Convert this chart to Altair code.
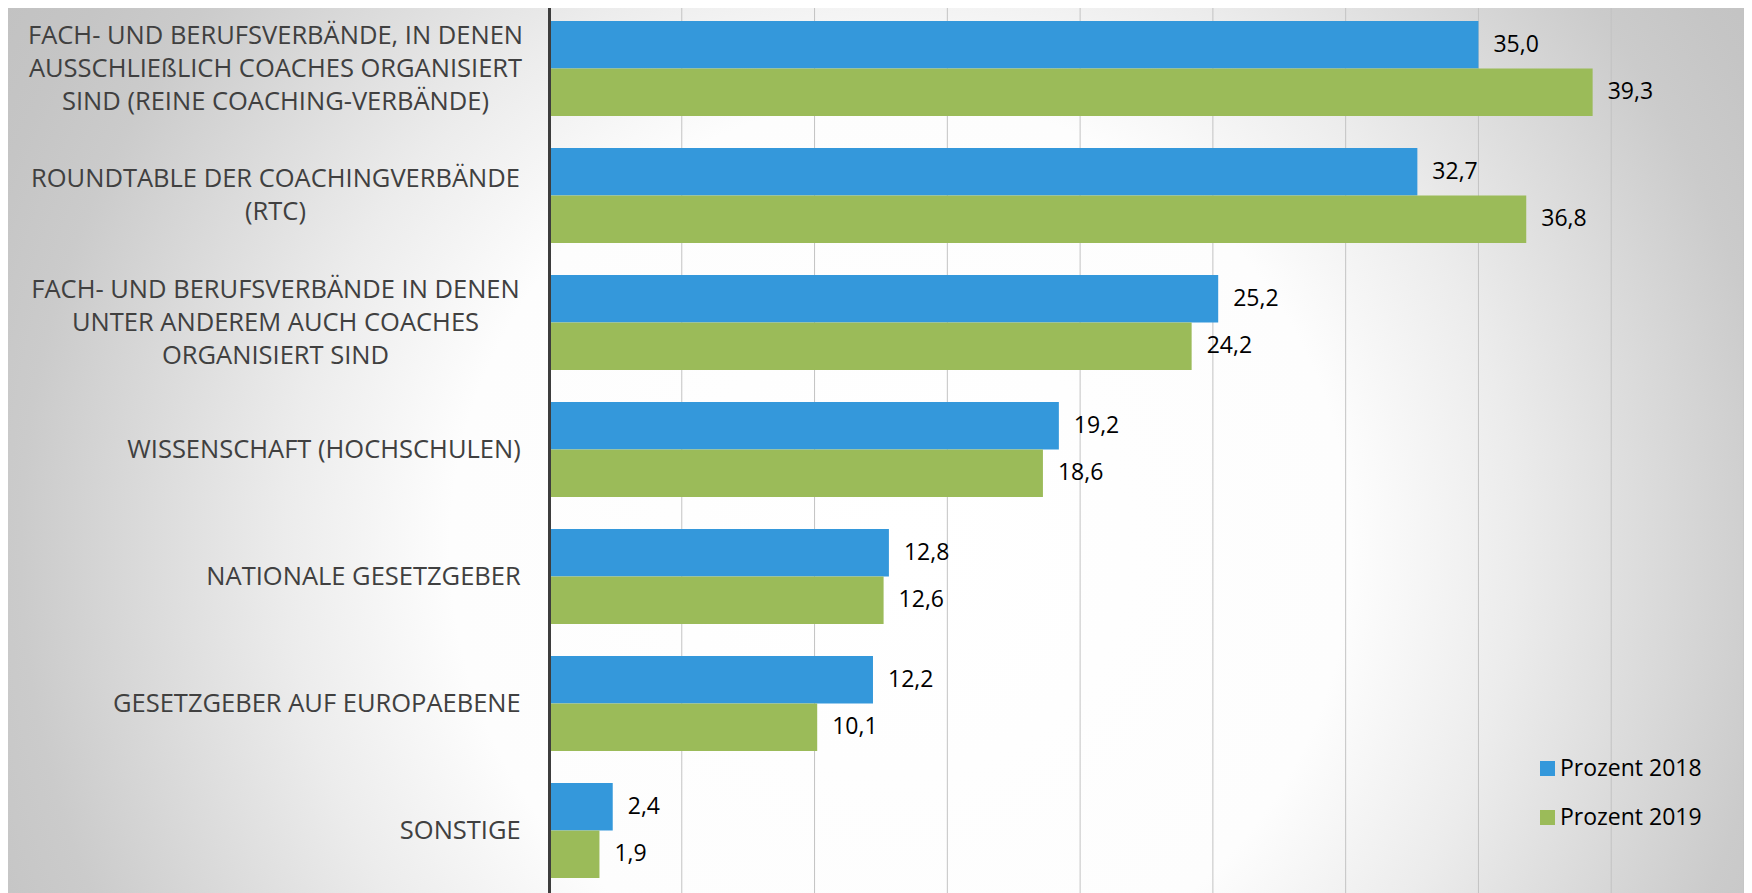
import altair as alt
import pandas as pd

# ---- data ----
categories = [
    ["FACH- UND BERUFSVERBÄNDE, IN DENEN", "AUSSCHLIEßLICH COACHES ORGANISIERT", "SIND (REINE COACHING-VERBÄNDE)"],
    ["ROUNDTABLE DER COACHINGVERBÄNDE", "(RTC)"],
    ["FACH- UND BERUFSVERBÄNDE IN DENEN", "UNTER ANDEREM AUCH COACHES", "ORGANISIERT SIND"],
    ["WISSENSCHAFT (HOCHSCHULEN)"],
    ["NATIONALE GESETZGEBER"],
    ["GESETZGEBER AUF EUROPAEBENE"],
    ["SONSTIGE"],
]
series_names = ["Prozent 2018", "Prozent 2019"]
values_2018 = [35.0, 32.7, 25.2, 19.2, 12.8, 12.2, 2.4]
values_2019 = [39.3, 36.8, 24.2, 18.6, 12.6, 10.1, 1.9]
grid_values = [5, 10, 15, 20, 25, 30, 35, 40, 45]
x_domain = [0, 45]

# ---- styles ----
series_colors = ["#3498db", "#9bbb59"]
FONT = "Open Sans"
LINE_H = 33

cat_keys = ["\n".join(c) for c in categories]
rows = []
for key, v18, v19 in zip(cat_keys, values_2018, values_2019):
    rows.append({"cat": key, "series": series_names[0], "value": v18})
    rows.append({"cat": key, "series": series_names[1], "value": v19})
df = pd.DataFrame(rows)
lab_df = pd.DataFrame({"cat": cat_keys, "n": [len(c) for c in categories]})
grid_df = pd.DataFrame({"g": grid_values})

x_scale = alt.Scale(domain=x_domain, nice=False, zero=True)
Y = alt.Y(
    "cat:N",
    sort=cat_keys,
    title=None,
    scale=alt.Scale(range=[-3, 886], paddingInner=0.252, paddingOuter=0.126),
    axis=alt.Axis(labels=False, ticks=False, grid=False, domainColor="#3d3d3d",
                  domainWidth=3, zindex=1, title=None),
)
YOFF = alt.YOffset("series:N", sort=series_names, scale=alt.Scale(paddingInner=0, paddingOuter=0))

gradient = {
    "gradient": "radial",
    "x1": 0.514, "y1": 0.556, "r1": 0,
    "x2": 0.514, "y2": 0.556, "r2": 0.6025,
    "stops": [
        {"offset": 0, "color": "#ffffff"},
        {"offset": 0.43, "color": "#fdfdfd"},
        {"offset": 0.588, "color": "#ececec"},
        {"offset": 0.841, "color": "#cbcbcb"},
        {"offset": 0.927, "color": "#c5c5c5"},
        {"offset": 1, "color": "#c2c2c2"},
    ],
}

bg = alt.Chart(alt.Data(values=[{"a": 1}])).mark_rect(fill=gradient, strokeWidth=0).encode(
    x=alt.value(-541), x2=alt.value(1195), y=alt.value(0), y2=alt.value(885)
)

grid = alt.Chart(grid_df).mark_rule(color="#c3c3c3", strokeWidth=1).encode(
    x=alt.X("g:Q", scale=x_scale, axis=None),
    y=alt.value(0),
    y2=alt.value(885),
)

bars = alt.Chart(df).mark_bar().encode(
    x=alt.X("value:Q", scale=x_scale, axis=None),
    y=Y,
    yOffset=YOFF,
    color=alt.Color(
        "series:N",
        sort=series_names,
        scale=alt.Scale(domain=series_names, range=series_colors),
        legend=alt.Legend(
            title=None, orient="none", legendX=987, legendY=749,
            symbolType="square", symbolSize=225, symbolStrokeWidth=0,
            labelFont=FONT, labelFontSize=23, labelColor="#000000",
            rowPadding=25, labelOffset=1, padding=0,
        ),
    ),
)

values_txt = alt.Chart(df).transform_calculate(
    label="replace(format(datum.value, '.1f'), '.', ',')"
).mark_text(align="left", baseline="middle", dx=15, font=FONT, fontSize=23, color="#000000").encode(
    x=alt.X("value:Q", scale=x_scale, axis=None),
    y=Y,
    yOffset=YOFF,
    text="label:N",
)

label_layers = []
for n in sorted(set(len(c) for c in categories)):
    if n == 1:
        lyr = alt.Chart(lab_df).transform_filter("datum.n == 1").mark_text(
            align="right", baseline="middle", font=FONT, fontSize=25.5, color="#404040",
        ).encode(y=Y, x=alt.value(-28.3), text="cat:N")
    else:
        lyr = alt.Chart(lab_df).transform_filter(f"datum.n == {n}").mark_text(
            align="center", baseline="middle", lineBreak="\n", lineHeight=LINE_H,
            dy=-(n - 1) / 2 * LINE_H,
            font=FONT, fontSize=25.5, color="#404040",
        ).encode(y=Y, x=alt.value(-273.5), text="cat:N")
    label_layers.append(lyr)

chart = alt.layer(bg, grid, bars, values_txt, *label_layers).properties(
    width=1195,
    height=885,
    padding={"left": 541, "top": 0, "right": 0, "bottom": 0},
    autosize=alt.AutoSizeParams(type="none"),
    background="#ffffff",
).configure_view(stroke=None)

chart.save("out.html", embed_options={"renderer": "svg", "actions": False})
